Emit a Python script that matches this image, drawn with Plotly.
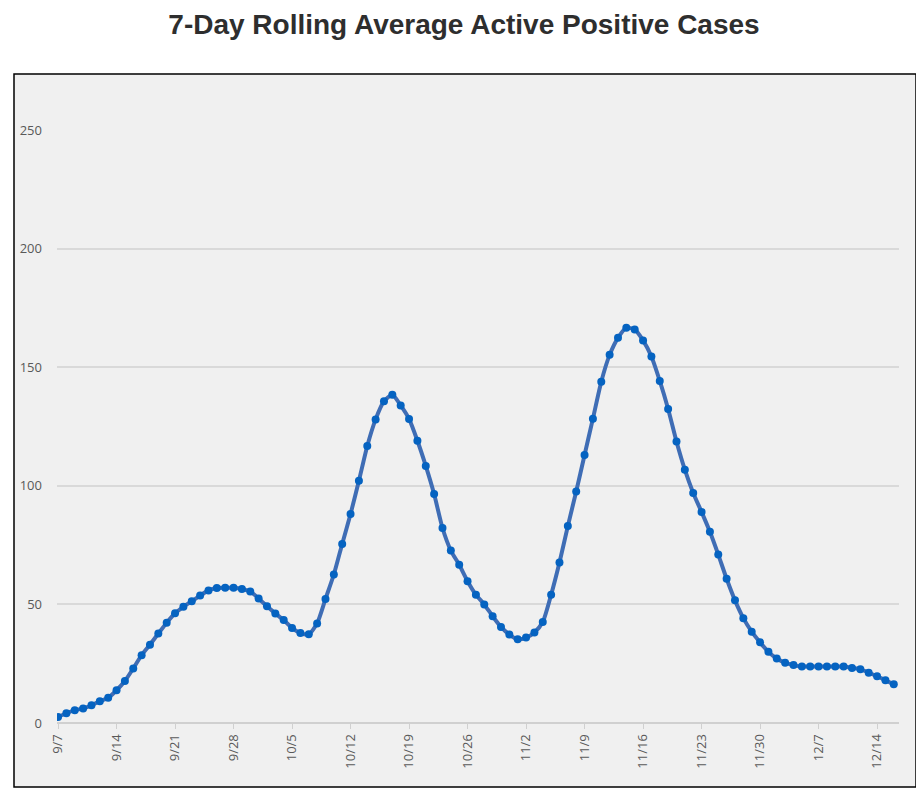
import plotly.graph_objects as go
import pandas as pd

# daily dates 9/7 .. 12/16
dates = pd.date_range("2020-09-07", "2020-12-16", freq="D")

# 7-day rolling average of active positive cases
cases = [
    2.5, 4.1, 5.4, 6.1, 7.5, 9.2, 10.6, 13.8, 17.7, 23.0,
    28.6, 33.0, 37.7, 42.3, 46.3, 49.0, 51.3, 53.7, 55.9, 56.9,
    57.0, 57.0, 56.5, 55.4, 52.5, 49.2, 46.2, 43.4, 40.1, 37.9,
    37.4, 42.0, 52.3, 62.6, 75.5, 88.1, 102.1, 116.8, 128.0, 135.6,
    138.4, 133.9, 128.2, 119.0, 108.4, 96.5, 82.2, 72.7, 66.7, 59.8,
    54.1, 50.0, 45.0, 40.5, 37.3, 35.3, 36.0, 38.2, 42.6, 54.1,
    67.7, 83.0, 97.6, 113.0, 128.3, 143.9, 155.2, 162.4, 166.6, 165.9,
    161.3, 154.5, 144.2, 132.4, 118.7, 106.8, 97.0, 89.0, 80.6, 71.0,
    60.8, 51.7, 44.2, 38.5, 34.0, 30.0, 27.2, 25.4, 24.4, 23.8,
    23.8, 23.8, 23.8, 23.8, 23.8, 23.2, 22.7, 21.2, 19.7, 18.0,
    16.3,
]

y_ticks = [0, 50, 100, 150, 200, 250]

fig = go.Figure()

fig.add_trace(go.Scatter(
    x=dates, y=cases,
    mode="lines+markers",
    line=dict(color="#3F6DB5", width=4, shape="spline", smoothing=0.6),
    marker=dict(color="#0563C1", size=8),
    hoverinfo="x+y",
))

# page has an 8px body margin, so everything is laid out 8px up/left
# grey chart frame, Excel style
fig.add_shape(type="rect", xref="paper", yref="paper",
              x0=(6 - 49) / 842, x1=(908 - 49) / 842,
              y0=(715 - 779) / 593, y1=(715 - 66) / 593,
              fillcolor="#F0F0F0", line=dict(color="#000000", width=1.5),
              layer="below")

fig.update_layout(
    width=924, height=810,
    paper_bgcolor="white",
    plot_bgcolor="rgba(0,0,0,0)",
    margin=dict(l=49, r=33, t=122, b=95),
    showlegend=False,
    title=dict(
        text="<b>7-Day Rolling Average Active Positive Cases</b>",
        x=456 / 924, xref="container", xanchor="center",
        y=1 - 16 / 810, yanchor="middle",
        font=dict(family="Liberation Sans, Arial", size=28, color="#2E2E2E"),
    ),
    font=dict(family="Open Sans, Calibri, sans-serif", color="#595959", size=13),
)

fig.update_xaxes(
    range=[pd.Timestamp("2020-09-06 21:00"), pd.Timestamp("2020-12-16 15:00")],
    tickformat="%-m/%-d",
    tick0="2020-09-07", dtick=7 * 24 * 3600 * 1000,
    tickangle=-90,
    ticks="outside", ticklen=5, tickcolor="#D0D0D0",
    showgrid=False, showline=False, zeroline=False,
    tickfont=dict(size=13, color="#595959"),
)

fig.update_yaxes(
    range=[0, 250],
    tickvals=y_ticks,
    showgrid=True, gridcolor="#D9D9D9", gridwidth=1.5,
    zeroline=True, zerolinecolor="#D0D0D0", zerolinewidth=1.5,
    showline=False, ticks="",
    ticklabelstandoff=14,
    tickfont=dict(size=13, color="#595959"),
)

fig.write_html("out.html")
